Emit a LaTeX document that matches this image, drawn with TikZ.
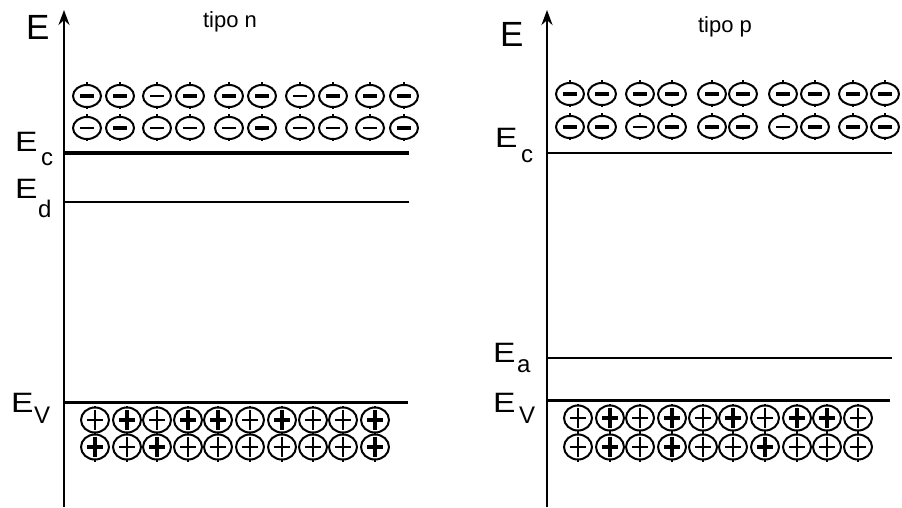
\documentclass[tikz,border=0pt]{standalone}
\usepackage{fontspec}
\setmainfont{Liberation Sans}
\usetikzlibrary{arrows.meta}

\newcommand{\wideE}{\scalebox{1.2}[1]{E}}

\begin{document}
\begin{tikzpicture}[x=1pt, y=-1pt,
    axis/.style={-{Stealth[length=15pt,width=11pt]}},
    thinlevel/.style={line width=1.3pt},
    bandedge/.style={line width=3pt},
    biglbl/.style={inner sep=0pt, anchor=base west, font=\fontsize{35}{35}\selectfont},
    lbl/.style={inner sep=0pt, anchor=base west, font=\fontsize{28}{28}\selectfont},
    sublbl/.style={inner sep=0pt, anchor=base west, font=\fontsize{24}{24}\selectfont},
    title/.style={inner sep=0pt, font=\fontsize{22}{22}\selectfont},
    carrier/.style={line width=2pt}
]
\useasboundingbox (0,0) rectangle (902,508);

% tipo n
\coordinate (nbot) at (64,507);
\coordinate (ntop) at (64,10);
\draw[axis, line width=1.5pt] (nbot) -- (ntop);
\node[biglbl] (nE) at (26,40) {E};
\node[title] (ntitle) at (230,22) {tipo n};
\draw[bandedge] (64,153) -- (409,153);
\draw[thinlevel] (64,202) -- (409,202);
\draw[bandedge] (64,402) -- (408,402);
\node[lbl] (nEc) at (15,152) {\wideE};
\node[sublbl] (nEcs) at (41,165) {c};
\node[lbl] (nEd) at (15,198) {\wideE};
\node[sublbl] (nEds) at (38,217) {d};
\node[lbl] (nEv) at (11,412) {\wideE};
\node[sublbl] (nEvs) at (34,423) {V};

% tipo p
\coordinate (pbot) at (547,507);
\coordinate (ptop) at (547,10);
\draw[axis, line width=2.8pt] (pbot) -- (ptop);
\node[biglbl] (pE) at (500,47) {E};
\node[title] (ptitle) at (725,27) {tipo p};
\draw[thinlevel] (547,153) -- (892,153);
\draw[thinlevel] (547,358) -- (892,358);
\draw[bandedge] (547,400) -- (890,400);
\node[lbl] (pEc) at (495,147) {\wideE};
\node[sublbl] (pEcs) at (521,162) {c};
\node[lbl] (pEa) at (493,362) {\wideE};
\node[sublbl] (pEas) at (517,372) {a};
\node[lbl] (pEv) at (493,412) {\wideE};
\node[sublbl] (pEvs) at (519,423) {V};

% electrons
\foreach \y/\row in {
    96/{87/3.5,120/3.5,157/1.5,190/3.5,229/3.5,262/3.5,300/1.5,333/3.5,370/3.5,404/3.5},
    128/{87/1.5,120/3.5,157/1.5,190/1.5,229/1.5,262/3.5,300/1.5,333/1.5,370/1.5,404/3.5},
    94/{570/3.5,602/3.5,640/3.5,672/3.5,712/3.5,743/3.5,783/3.5,815/3.5,853/3.5,885/3.5},
    127/{570/3.5,602/3.5,640/1.5,672/3.5,712/3.5,743/3.5,783/1.5,815/3.5,853/3.5,885/3.5}}
  \foreach \x/\w in \row {
    \draw[carrier] (\x,\y) ellipse [x radius=14pt, y radius=11pt];
    \draw[line width=1.5pt] (\x,\y-11) -- ++(0,-2.5) (\x,\y+11) -- ++(0,2.5);
    \draw[line width=\w pt] (\x-7,\y) -- (\x+7,\y);
  }

% huecos
\foreach \y/\row in {
    420/{95/1.5,127/3.5,157/1.5,188/3.5,218/3.5,250/1.5,282/3.5,313/1.5,343/1.5,375/3.5},
    447/{95/3.5,127/1.5,157/3.5,188/1.5,218/1.5,250/1.5,282/1.5,313/1.5,343/1.5,375/3.5},
    418/{578/1.5,610/3.5,640/1.5,672/3.5,703/1.5,733/3.5,765/1.5,797/3.5,827/3.5,858/1.5},
    447/{578/1.5,610/3.5,640/1.5,672/3.5,703/1.5,733/1.5,765/3.5,797/1.5,827/1.5,858/1.5}}
  \foreach \x/\w in \row {
    \draw[carrier] (\x,\y) ellipse [x radius=14pt, y radius=12.5pt];
    \draw[line width=1.5pt] (\x,\y-12.5) -- ++(0,-2) (\x,\y+12.5) -- ++(0,2);
    \draw[line width=\w pt] (\x-8,\y) -- (\x+8,\y) (\x,\y-10) -- (\x,\y+10);
  }
\end{tikzpicture}
\end{document}
